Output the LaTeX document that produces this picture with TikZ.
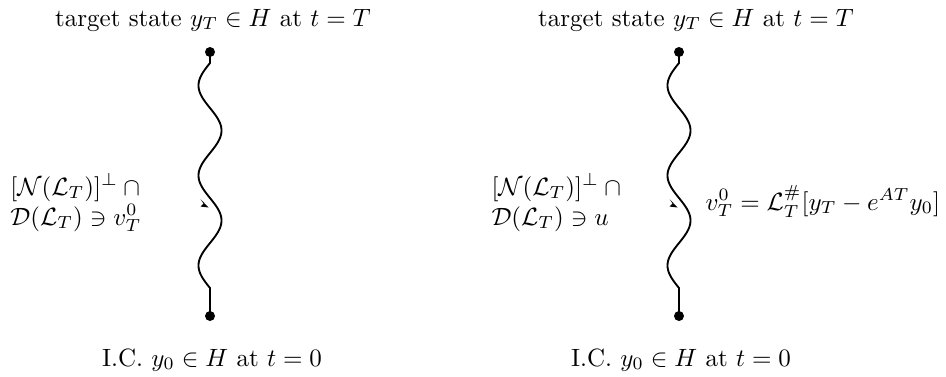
\documentclass[tikz,border=0pt]{standalone}
\usepackage{amsmath,amssymb}
\begin{document}
\begin{tikzpicture}[x=0.4pt,y=-0.4pt,
  dot/.style={circle,fill=black,inner sep=0pt,minimum size=4pt},
  lbl/.style={inner sep=0pt,anchor=base},
  lbll/.style={inner sep=0pt,anchor=base west},
  wave/.style={line width=0.75pt},
  tip/.style={fill=black}]
\useasboundingbox (0,0) rectangle (946,376);
% left diagram
\node[lbl] (topL) at (213,26) {target state $y_T\in H$ at $t=T$};
\node[dot] (t1) at (210,52) {};
\node[dot] (b1) at (210,316) {};
\coordinate (s1) at (210,63);
\coordinate (e1) at (210,288);
\draw[wave] (t1.center) -- (s1) -- plot[domain=0:225,samples=150,smooth] ({210-11.5*sin(4*\x)},{63+\x}) -- (e1) -- (b1.center);
\fill[tip] (208.5,207.5) -- (200.5,199) -- (203.5,203.5) -- (200.5,206.5) -- cycle;
\node[lbll] (l1) at (10,195) {\begin{tabular}[t]{@{}l@{}}$[\mathcal{N}(\mathcal{L}_T)]^\perp{}\cap{}$\\ $\mathcal{D}(\mathcal{L}_T)\ni v_T^0$\end{tabular}};
\node[lbl] (botL) at (212,366) {I.C. $y_0\in H$ at $t=0$};
% right diagram
\node[lbl] (topR) at (696,26) {target state $y_T\in H$ at $t=T$};
\node[dot] (t2) at (679,52) {};
\node[dot] (b2) at (679,316) {};
\coordinate (s2) at (679,63);
\coordinate (e2) at (679,288);
\draw[wave] (t2.center) -- (s2) -- plot[domain=0:225,samples=150,smooth] ({679-11.5*sin(4*\x)},{63+\x}) -- (e2) -- (b2.center);
\fill[tip] (677.5,207.5) -- (669.5,199) -- (672.5,203.5) -- (669.5,206.5) -- cycle;
\node[lbll] (l2) at (491,195) {\begin{tabular}[t]{@{}l@{}}$[\mathcal{N}(\mathcal{L}_T)]^\perp{}\cap{}$\\ $\mathcal{D}(\mathcal{L}_T)\ni u$\end{tabular}};
\node[lbll] (r2) at (705,210) {$v_T^0=\mathcal{L}_T^{\#}[y_T-e^{AT}y_0]$};
\node[lbl] (botR) at (681,366) {I.C. $y_0\in H$ at $t=0$};
\end{tikzpicture}
\end{document}
